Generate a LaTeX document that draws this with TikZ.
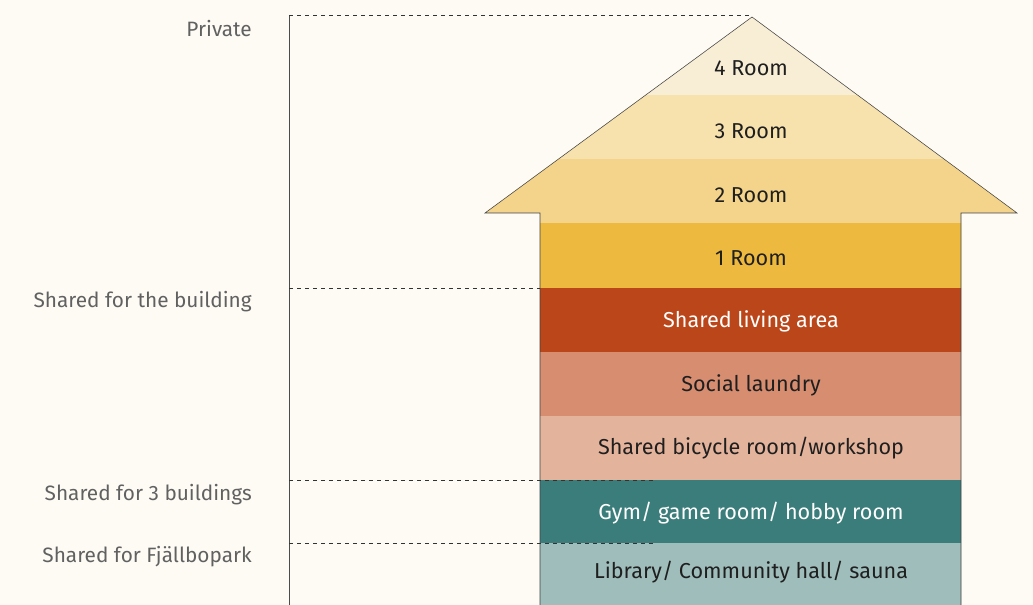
\documentclass[tikz,border=0pt]{standalone}
\usepackage{fontspec}
\setmainfont{Fira Sans}
\usetikzlibrary{positioning}
\definecolor{paper}{HTML}{FEFBF5}
\definecolor{roomfour}{HTML}{F8EED5}
\definecolor{roomthree}{HTML}{F7E2AE}
\definecolor{roomtwo}{HTML}{F4D48B}
\definecolor{roomone}{HTML}{EDBA3F}
\definecolor{livingred}{HTML}{BA4619}
\definecolor{laundry}{HTML}{D78D70}
\definecolor{bicycle}{HTML}{E4B39C}
\definecolor{gymteal}{HTML}{3B7D7B}
\definecolor{libteal}{HTML}{9EBDBB}
\tikzset{
    band/.style={fill=#1,draw=none},
    outline/.style={draw=black!75,thin,line join=miter},
    guide/.style={dashed,thin,black!80},
    axis line/.style={thin,black!70},
    room label/.style={font=\fontsize{16.2}{19}\selectfont,text=black!88},
    side label/.style={anchor=east,inner xsep=0pt,font=\fontsize{15.6}{18}\selectfont,text=black!62},
}

\begin{document}
\begin{tikzpicture}[x=0.75pt,y=-0.75pt]
    \useasboundingbox (0,0) rectangle (1033,605);
    \fill[paper] (0,0) rectangle (1033,605);
    % shape points
    \coordinate (apex) at (752,17);
    \coordinate (lbarb) at (485,213);
    \coordinate (rbarb) at (1017,213);
    \coordinate (lshoulder) at (540,213);
    \coordinate (rshoulder) at (961,213);
    \coordinate (lfoot) at (540,605);
    \coordinate (rfoot) at (961,605);
    % bands
    \begin{scope}
        \clip (lfoot) -- (lshoulder) -- (lbarb) -- (apex) -- (rbarb) -- (rshoulder) -- (rfoot) -- cycle;
        \fill[band=roomfour] (480,0) rectangle (1020,95);
        \fill[band=roomthree] (480,95) rectangle (1020,159);
        \fill[band=roomtwo] (480,159) rectangle (1020,223);
        \fill[band=roomone] (480,223) rectangle (1020,288);
        \fill[band=livingred] (480,288) rectangle (1020,352);
        \fill[band=laundry] (480,352) rectangle (1020,416);
        \fill[band=bicycle] (480,416) rectangle (1020,480);
        \fill[band=gymteal] (480,480) rectangle (1020,543);
        \fill[band=libteal] (480,543) rectangle (1020,606);
    \end{scope}
    \draw[outline] (lfoot) -- (lshoulder) -- (lbarb) -- (apex) -- (rbarb) -- (rshoulder) -- (rfoot);

    % room labels
    \node[room label] (four) at (751,68) {4 Room};
    \node[room label] (three) at (751,131) {3 Room};
    \node[room label] (two) at (751,195) {2 Room};
    \node[room label] (one) at (751,258) {1 Room};
    \node[room label,text=white] (living) at (751,321) {Shared living area};
    \node[room label] (laundry) at (751,385) {Social laundry};
    \node[room label] (bike) at (751,448) {Shared bicycle room/workshop};
    \node[room label,text=white] (gym) at (751,513) {Gym/ game room/ hobby room};
    \node[room label] (library) at (751,572) {Library/ Community hall/ sauna};

    % scale on the left
    \coordinate (axtop) at (289,15);
    \coordinate (axbot) at (289,605);
    \coordinate (axbuild) at (289,288);
    \coordinate (axthree) at (289,480);
    \coordinate (axpark) at (289,543);
    \coordinate (endthree) at (655,480);
    \coordinate (endpark) at (655,543);
    \draw[axis line] (axtop) -- (axbot);
    \draw[guide] (axtop) -- (apex |- axtop);
    \draw[guide] (axbuild) -- (lshoulder |- axbuild);
    \draw[guide] (axthree) -- (endthree);
    \draw[guide] (axpark) -- (endpark);

    \node[side label] (private) at (252,29) {Private};
    \node[side label] (building) at (252,302) {Shared for the building};
    \node[side label] (threebuild) at (252,495) {Shared for 3 buildings};
    \node[side label] (park) at (252,557) {Shared for Fjällbopark};
\end{tikzpicture}
\end{document}
